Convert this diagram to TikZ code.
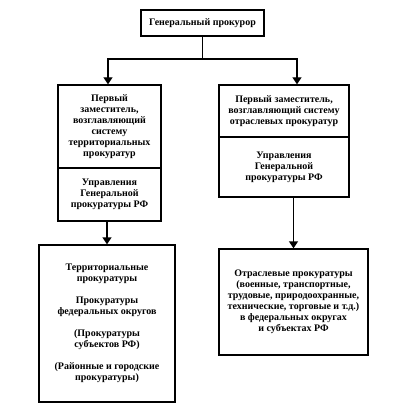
\documentclass[tikz,border=0pt]{standalone}
\usepackage{fontspec}
\setmainfont{Liberation Serif}
\usetikzlibrary{arrows.meta}

\begin{document}
\begin{tikzpicture}[x=1pt,y=-1pt]
	\useasboundingbox (0,0) rectangle (400,414);
		\begin{scope}[every node/.style={draw,line width=1.4pt,align=center,inner sep=2pt,
		              font=\bfseries\fontsize{10}{11}\selectfont}]
			\node[minimum width=123pt,minimum height=26pt] (gp) at (202.5,23) {Генеральный прокурор};
			\node[minimum width=103pt,minimum height=83pt] (lt1) at (109.5,126.5) {Первый\\заместитель,\\возглавляющий\\систему\\территориальных\\прокуратур};
			\node[minimum width=103pt,minimum height=53pt] (lt2) at (109.5,194.5) {Управления\\Генеральной\\прокуратуры РФ};
			\node[minimum width=130pt,minimum height=52pt] (rt1) at (284,111) {Первый заместитель,\\возглавляющий систему\\отраслевых прокуратур};
			\node[minimum width=130pt,minimum height=60pt] (rt2) at (284,167) {Управления\\Генеральной\\прокуратуры РФ};
			\node[minimum width=136pt,minimum height=157pt] (lb) at (107,323.5) {Территориальные\\прокуратуры\\[11pt]Прокуратуры\\федеральных округов\\[11pt](Прокуратуры\\субъектов РФ)\\[11pt](Районные и городские\\прокуратуры)};
			\node[minimum width=149pt,minimum height=106pt] (rb) at (293.5,302) {Отраслевые прокуратуры\\(военные, транспортные,\\трудовые, природоохранные,\\технические, торговые и т.д.)\\в федеральных округах\\и субъектах РФ};
		\end{scope}

	\begin{scope}[>={Triangle[length=7pt,width=9pt]},
              every path/.style={draw=black,line width=1.4pt}]
	\coordinate (fork) at (gp.south |- 0,59);
	\path (gp.south) -- (fork);
	\path[->] (fork) -| ([xshift=-1.5pt]lt1.north);
	\path[->] (fork) -| ([xshift=13pt]rt1.north);
	\path[->] (lt2.south -| lb.north) -- (lb.north);
	\path[->] (rt2.south -| rb.north) -- (rb.north);
\end{scope}
\end{tikzpicture}
\end{document}
